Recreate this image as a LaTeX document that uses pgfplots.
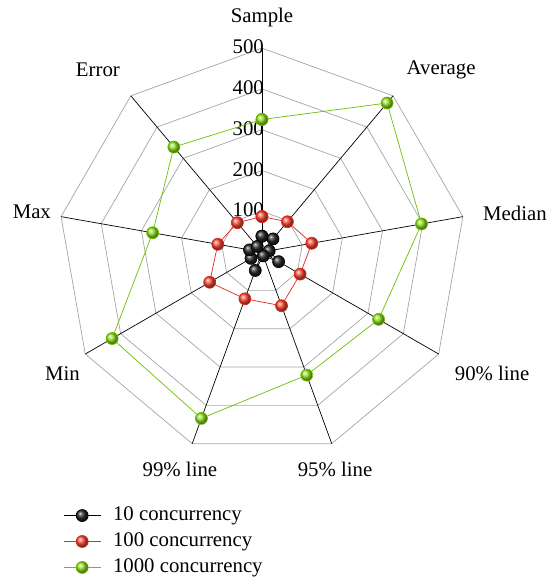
\documentclass[border=0pt]{standalone}
\usepackage{pgfplots}
\pgfplotsset{compat=1.18}
\usepackage{fontspec}
\setmainfont{Liberation Serif}
\definecolor{gridgray}{RGB}{165,165,165}
\definecolor{redline}{RGB}{222,42,30}
\definecolor{greenline}{RGB}{110,190,0}
\definecolor{redball}{RGB}{255,75,55}
\definecolor{greenball}{RGB}{150,230,35}
\definecolor{blackball}{RGB}{40,40,40}
\begin{document}
\fontsize{20.8}{25}\selectfont
\begin{tikzpicture}
\begin{axis}[
    scale only axis,
    width=557pt, height=580pt,
    xmin=-642, xmax=723,
    ymin=-804, ymax=618,
    hide axis,
    clip=false,
    legend style={at={(0.108,0.133)}, anchor=north west, draw=none, fill=none,
        row sep=5pt, font=\fontsize{20.8}{25}\selectfont,
        /tikz/every odd column/.append style={column sep=10pt}},
    legend cell align=left,
    legend image code/.code={%
        \draw[mark repeat=2,mark phase=2,#1]
        plot coordinates {(0cm,0cm)(0.65cm,0cm)(1.3cm,0cm)};},
]
% grid rings
\pgfplotsinvokeforeach{100,200,300,400,500}{
\addplot[gridgray, line width=0.7pt, no markers, data cs=polar, forget plot]
    coordinates {(90,#1)(50,#1)(10,#1)(-30,#1)(-70,#1)(-110,#1)(-150,#1)(170,#1)(130,#1)(90,#1)};
}
% spokes
\pgfplotsinvokeforeach{90,50,10,-30,-70,-110,-150,170,130}{
\addplot[black, line width=0.7pt, no markers, data cs=polar, forget plot]
    coordinates {(#1,0)(#1,500)};
}
% radial tick labels
\node[anchor=east, inner sep=0pt] at (axis cs:5,103) {100};
\node[anchor=east, inner sep=0pt] at (axis cs:5,203) {200};
\node[anchor=east, inner sep=0pt] at (axis cs:5,303) {300};
\node[anchor=east, inner sep=0pt] at (axis cs:5,403) {400};
\node[anchor=east, inner sep=0pt] at (axis cs:5,503) {500};
% category labels
\node at (axis cs:0,576) {Sample};
\node at (axis cs:439,446) {Average};
\node at (axis cs:620,96) {Median};
\node at (axis cs:564,-297) {90\% line};
\node at (axis cs:179,-532) {95\% line};
\node at (axis cs:-201,-532) {99\% line};
\node at (axis cs:-489,-297) {Min};
\node at (axis cs:-564,98) {Max};
\node at (axis cs:-402,446) {Error};

\addplot[black, line width=0.7pt, mark=ball, mark size=6pt,
    mark options={ball color=blackball}, data cs=polar]
    coordinates {(90,39)(50,42)(10,18)(-30,47)(-70,10)(-110,48)(-150,31)(170,31)(130,18)(90,39)};
\addplot[redline, line width=0.7pt, mark=ball, mark size=6pt,
    mark options={ball color=redball}, data cs=polar]
    coordinates {(90,87)(50,97)(10,124)(-30,108)(-70,140)(-110,122)(-150,148)(170,110)(130,94)(90,87)};
\addplot[greenline, line width=0.7pt, mark=ball, mark size=6pt,
    mark options={ball color=greenball}, data cs=polar]
    coordinates {(90,325)(50,477)(10,397)(-30,330)(-70,321)(-110,434)(-150,424)(170,272)(130,336)(90,325)};
\legend{10 concurrency, 100 concurrency, 1000 concurrency}
\end{axis}
\pgfresetboundingbox
\path[use as bounding box] (current axis.south west) rectangle (current axis.north east);
\end{tikzpicture}
\end{document}
